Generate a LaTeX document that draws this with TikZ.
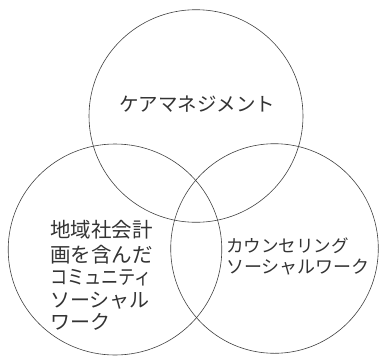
\documentclass[tikz,border=0pt]{standalone}
\usepackage{fontspec}
\newfontfamily\jpfont{Noto Sans CJK JP}
\begin{document}
\begin{tikzpicture}[x=1pt,y=-1pt,
  ring/.style={draw=black!75,line width=0.6pt},
  lbl/.style={inner sep=0pt,outer sep=0pt,text=black!80,font=\jpfont}]
\useasboundingbox (0,0) rectangle (379,356);
\clip (0,0) rectangle (379,356);
\draw[ring] (196,116) ellipse[x radius=107,y radius=106.3];
\draw[ring] (115,249.5) ellipse[x radius=106.8,y radius=105.5];
\draw[ring] (274.5,248.5) ellipse[x radius=103.8,y radius=104.8];
\node[lbl,anchor=base,font=\jpfont\fontsize{19.5}{22}\selectfont] (care) at (197,111.8) {ケアマネジメント};
\node[lbl,anchor=base west,font=\jpfont\fontsize{20.5}{24}\selectfont] (l1) at (50,237.6) {地域社会計};
\node[lbl,anchor=base west,font=\jpfont\fontsize{20.5}{24}\selectfont] (l2) at (50,262.6) {画を含んだ};
\node[lbl,anchor=base west,font=\jpfont\fontsize{20}{24}\selectfont] (l3) at (50,284.6) {\scalebox{0.86}[1]{コミュニティ}};
\node[lbl,anchor=base west,font=\jpfont\fontsize{20}{24}\selectfont] (l4) at (50,307.6) {ソーシャル};
\node[lbl,anchor=base west,font=\jpfont\fontsize{20}{24}\selectfont] (l5) at (50,329.6) {ワーク};
\node[lbl,anchor=base west,font=\jpfont\fontsize{17.5}{21}\selectfont] (r1) at (226,252.5) {カウンセリング};
\node[lbl,anchor=base west,font=\jpfont\fontsize{18}{21}\selectfont] (r2) at (226,273.2) {ソーシャルワーク};
\end{tikzpicture}
\end{document}
